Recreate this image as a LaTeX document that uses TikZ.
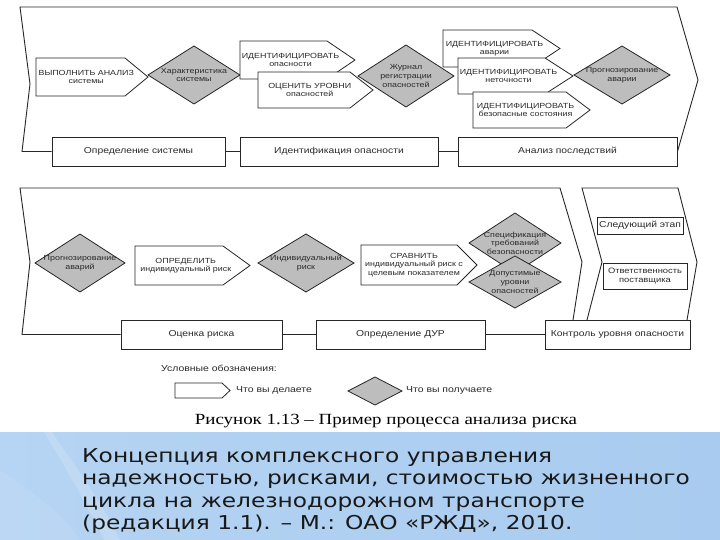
\documentclass[tikz,border=0pt]{standalone}
\usepackage{fontspec}
\setmainfont{Liberation Sans}
\newfontfamily\dfont[FakeStretch=1.2]{Liberation Sans}
\newfontfamily\capfont[FakeStretch=1.22]{Liberation Serif}
\newfontfamily\bandfont[FakeStretch=1.22]{DejaVu Sans}
\definecolor{linec}{HTML}{262626}
\definecolor{dgray}{HTML}{BDBDBD}
\definecolor{txtc}{HTML}{2A2A2A}
\definecolor{bandA}{HTML}{B6D4F3}
\definecolor{bandB}{HTML}{A8CBEF}
\tikzset{
  frame/.style={draw=linec, line width=0.9pt, line join=miter},
  shp/.style={draw=linec, fill=white, line width=0.8pt, line join=miter},
  gshp/.style={draw=linec, fill=dgray, line width=0.8pt, line join=miter},
  boxn/.style={draw=linec, fill=white, line width=0.9pt, inner sep=0pt, text=txtc,
    font=\dfont\fontsize{8.6}{10}\selectfont},
  stxt/.style={align=center, inner sep=0pt, text=txtc, font=\dfont\fontsize{7.4}{8.6}\selectfont},
  legtxt/.style={inner sep=0pt, text=txtc, font=\dfont\fontsize{8.7}{10}\selectfont},
  bandtxt/.style={inner sep=0pt, anchor=base west, text=black!90, font=\bandfont\fontsize{19.1}{22}\selectfont},
}
\newcommand\mkpent[7]{%
  \draw[shp] (#2,#3) -- (#4,#3) -- (#6,{(#3+#5)/2}) -- (#4,#5) -- (#2,#5) -- cycle;
  \node[stxt] (#1) at ({(#2+(#4+#6)/2)/2},{(#3+#5)/2}) {#7};}
\newcommand\mkdiam[6]{%
  \draw[gshp] ({#2-#4},#3) -- (#2,{#3-#5}) -- ({#2+#4},#3) -- (#2,{#3+#5}) -- cycle;
  \node[stxt] (#1) at (#2,#3) {#6};}
\begin{document}
\begin{tikzpicture}[x=1pt,y=-1pt]
\useasboundingbox (0,0) rectangle (720,540);
\fill[white] (0,0) rectangle (720,540);
% ---------- band ----------
\shade[left color=bandA, right color=bandB] (0,432) rectangle (720,540);
\fill[white, opacity=0.16] (52,432) .. controls (70,460) and (95,490) .. (120,540) -- (104,540) .. controls (82,495) and (62,462) .. (44,432) -- cycle;
\fill[white, opacity=0.08] (0,470) .. controls (30,490) and (60,510) .. (80,540) -- (0,540) -- cycle;
% ---------- upper stage ----------
\node[boxn, minimum width=173, minimum height=29] (b1) at (138.5,151.5) {Определение системы};
\node[boxn, minimum width=198, minimum height=29] (b2) at (339,151.5) {Идентификация опасности};
\node[boxn, minimum width=219, minimum height=29] (b3) at (567.5,151.5) {Анализ последствий};
\draw[frame] (b1.west) -- (22,151.5) -- (30,84) -- (20,7) -- (677,7) -- (698,80) -- (b3.east);
\draw[frame] (b1.east) -- (b2.west);
\draw[frame] (b2.east) -- (b3.west);
\mkpent{p1}{36}{58}{125}{96}{148}{ВЫПОЛНИТЬ АНАЛИЗ\\системы}
\mkdiam{d1}{194}{75}{46}{29}{Характеристика\\системы}
\mkpent{p2}{240}{41}{327}{79}{355}{ИДЕНТИФИЦИРОВАТЬ\\опасности}
\mkpent{p3}{258}{72}{350}{108}{373}{ОЦЕНИТЬ УРОВНИ\\опасностей}
\mkdiam{d2}{406}{76}{48}{31}{Журнал\\регистрации\\опасностей}
\mkpent{p4}{443}{30}{532}{67}{560}{ИДЕНТИФИЦИРОВАТЬ\\аварии}
\mkpent{p5}{458}{58}{545}{94}{573}{ИДЕНТИФИЦИРОВАТЬ\\неточности}
\mkpent{p6}{473}{92}{566}{128}{590}{ИДЕНТИФИЦИРОВАТЬ\\безопасные состояния}
\mkdiam{d3}{622}{75}{48}{29}{Прогнозирование\\аварии}
% ---------- lower stage ----------
\node[boxn, minimum width=161, minimum height=29] (c1) at (201.5,334.5) {Оценка риска};
\node[boxn, minimum width=169, minimum height=29] (c2) at (400.5,334.5) {Определение ДУР};
\draw[frame] (c1.west) -- (22,334.5) -- (30,262) -- (20,188) -- (560,188) -- (582,262) -- (573,320);
\draw[frame] (587,320) -- (602,262) -- (582,188) -- (678,188) -- (697,262) -- (687,320);
\node[boxn, minimum width=145, minimum height=29] (c3) at (617.5,334.5) {Контроль уровня опасности};
\draw[frame] (c1.east) -- (c2.west);
\draw[frame] (c2.east) -- (c3.west);
\mkdiam{e1}{80}{263}{45}{29}{Прогнозирование\\аварий}
\mkpent{q1}{135}{246}{223}{285}{250}{ОПРЕДЕЛИТЬ\\индивидуальный риск}
\mkdiam{e2}{306}{263}{48}{29}{Индивидуальный\\риск}
\mkpent{q2}{361}{245}{457}{285}{477}{СРАВНИТЬ\\индивидуальный риск с\\целевым показателем}
\mkdiam{e3}{515}{243}{46}{30}{Спецификация\\требований\\безопасности}
\mkdiam{e4}{515}{282}{46}{26}{Допустимые\\уровни\\опасностей}
\node[boxn, minimum width=86, minimum height=17] (r1) at (640,225.5) {Следующий этап};
\node[boxn, align=center, minimum width=84, minimum height=26, font=\dfont\fontsize{7.8}{9.6}\selectfont] (r2) at (645,276) {Ответственность\\поставщика};
% ---------- legend ----------
\node[legtxt, anchor=west] (leg) at (161,368) {Условные обозначения:};
\mkpent{lp}{175}{383}{222}{398}{230}{}
\node[legtxt, anchor=west] (ldo) at (236,390.5) {Что вы делаете};
\mkdiam{ld}{375}{391}{27}{14}{}
\node[legtxt, anchor=west] (lget) at (406,390.5) {Что вы получаете};
\node[inner sep=0pt, font=\capfont\fontsize{15.5}{17}\selectfont] (cap) at (386,421) {Рисунок 1.13 – Пример процесса анализа риска};
% ---------- reference text ----------
\node[bandtxt] (t1) at (82,462) {Концепция комплексного управления};
\node[bandtxt] (t2) at (82,484.5) {надежностью, рисками, стоимостью жизненного};
\node[bandtxt] (t3) at (82,507) {цикла на железнодорожном транспорте};
\node[bandtxt] (t4) at (82,529) {(редакция 1.1). – М.: ОАО «РЖД», 2010.};
\end{tikzpicture}
\end{document}
